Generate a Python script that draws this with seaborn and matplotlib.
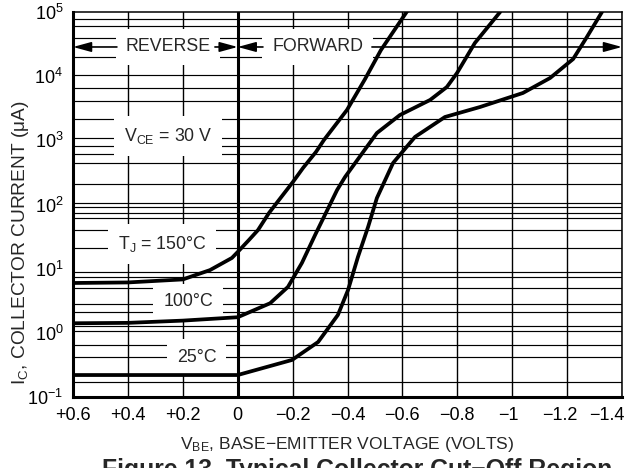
import numpy as np
import pandas as pd
import matplotlib
matplotlib.use("Agg")
import matplotlib.pyplot as plt
from matplotlib.ticker import NullLocator
import matplotlib.transforms as mtransforms
import seaborn as sns

# ---------------- data ----------------
vbe_150 = [0.6, 0.4, 0.2, 0.101, 0.021, 0.0, -0.041, -0.074, -0.114, -0.150, -0.201, -0.238,
           -0.285, -0.314, -0.398, -0.464, -0.522, -0.62]
ic_150 = [5.98, 6.1, 6.8, 9.5, 14.7, 18.2, 28, 40, 73.8, 117, 224, 371,
          658, 1010, 2970, 9030, 2.56e4, 1.07e5]

vbe_100 = [0.6, 0.4, 0.2, 0.0, -0.118, -0.183, -0.234, -0.282, -0.362, -0.391, -0.507, -0.591,
           -0.701, -0.762, -0.799, -0.864, -0.956]
ic_100 = [1.41, 1.43, 1.55, 1.75, 2.89, 5.19, 12.3, 33.5, 168, 268, 1300, 2480,
          4260, 6780, 1.12e4, 3.29e4, 1.0e5]

vbe_25 = [0.6, 0.0, -0.198, -0.293, -0.365, -0.402, -0.438, -0.475, -0.507, -0.566, -0.646,
          -0.755, -0.883, -1.039, -1.138, -1.222, -1.272, -1.327]
ic_25 = [0.22, 0.22, 0.378, 0.72, 1.90, 4.65, 15.2, 44.7, 126, 444, 1130,
         2310, 3310, 5470, 9360, 1.85e4, 4.07e4, 1.0e5]

x_ticks = [0.6, 0.4, 0.2, 0.0, -0.2, -0.4, -0.6, -0.8, -1.0, -1.2, -1.4]
x_tick_labels = ["+0.6", "+0.4", "+0.2", "0", "\u22120.2", "\u22120.4", "\u22120.6",
                 "\u22120.8", "\u22121", "\u22121.2", "\u22121.4"]
y_ticks = [1e-1, 1e0, 1e1, 1e2, 1e3, 1e4, 1e5]
y_tick_labels = [r"$\mathdefault{10^{-1}}$", r"$\mathdefault{10^{0}}$", r"$\mathdefault{10^{1}}$",
                 r"$\mathdefault{10^{2}}$", r"$\mathdefault{10^{3}}$", r"$\mathdefault{10^{4}}$",
                 r"$\mathdefault{10^{5}}$"]

# style: horizontal rules of the printed chart paper
grid_levels = [7.8e4, 6.1e4, 3.9e4, 2.0e4, 1.04e4, 6.5e3, 4.15e3, 2.13e3, 1.1e3, 825, 612, 439,
               209, 107, 90, 74.5, 61, 40, 20.8, 9.0, 7.3, 4.95, 2.8, 2.1, 1.28, 1.08, 0.65,
               0.425, 0.169]

df = pd.concat([
    pd.DataFrame({"vbe": vbe_150, "ic": ic_150, "temp": "150"}),
    pd.DataFrame({"vbe": vbe_100, "ic": ic_100, "temp": "100"}),
    pd.DataFrame({"vbe": vbe_25, "ic": ic_25, "temp": "25"}),
], ignore_index=True)

# ---------------- style ----------------
sns.set_style("white")
plt.rcParams["font.family"] = ["Liberation Sans", "DejaVu Sans"]
plt.rcParams["mathtext.fontset"] = "custom"
plt.rcParams["mathtext.rm"] = "Liberation Sans"
plt.rcParams["mathtext.default"] = "regular"

fig = plt.figure(figsize=(6.27, 4.68), dpi=100)
ax = fig.add_axes([73 / 627, 1 - 397 / 468, 549 / 627, 385 / 468])

ax.set_yscale("log")
sns.lineplot(data=df, x="vbe", y="ic", hue="temp", units="temp", estimator=None, sort=False,
             palette={"150": "black", "100": "black", "25": "black"}, legend=False,
             linewidth=2.7, ax=ax, zorder=5)

ax.set_xlim(0.6, -1.4)
ax.set_ylim(1e-1, 1e5)

# grid
for lv in grid_levels:
    ax.axhline(lv, color="black", lw=0.85, zorder=1)
for xv in x_ticks:
    ax.axvline(xv, color="black", lw=1.0, zorder=1)
ax.axvline(0.0, color="black", lw=2.2, zorder=2)

ax.set_xticks(x_ticks)
ax.set_xticklabels(x_tick_labels)
ax.set_yticks(y_ticks)
ax.set_yticklabels(y_tick_labels)
ax.yaxis.set_minor_locator(NullLocator())
ax.tick_params(axis="both", length=0, labelsize=13, colors="black")
ax.tick_params(axis="x", pad=7)
ax.tick_params(axis="y", pad=7)

xt = ax.get_xticklabels()
xt[-1].set_horizontalalignment("right")
xt[-1].set_transform(xt[-1].get_transform() + mtransforms.ScaledTranslation(3 / 100, 0, fig.dpi_scale_trans))
xt[-2].set_transform(xt[-2].get_transform() + mtransforms.ScaledTranslation(-7 / 100, 0, fig.dpi_scale_trans))
xt[-3].set_transform(xt[-3].get_transform() + mtransforms.ScaledTranslation(-4 / 100, 0, fig.dpi_scale_trans))

for side in ["left", "bottom"]:
    ax.spines[side].set_linewidth(2.2)
for side in ["top", "right"]:
    ax.spines[side].set_linewidth(1.1)
for s in ax.spines.values():
    s.set_color("black")
    s.set_zorder(6)

ax.set_xlabel("V$_{\\mathregular{BE}}$, BASE\u2212EMITTER VOLTAGE (VOLTS)", fontsize=12.6, labelpad=8)
ax.set_ylabel("I$_{\\mathregular{C}}$, COLLECTOR CURRENT (\u03bcA)", fontsize=13.8)
ax.yaxis.set_label_coords(-0.0765, 0.401)

box = dict(boxstyle="square,pad=0.55", fc="white", ec="none")
tfs = 12.8
y_arrow = 2.85e4
ax.text(0.254, y_arrow, "REVERSE", ha="center", va="center", fontsize=tfs, bbox=box, zorder=3)
ax.text(-0.291, y_arrow, "FORWARD", ha="center", va="center", fontsize=tfs, bbox=box, zorder=3)
ax.text(0.254, 1170, "V$_{\\mathregular{CE}}$ = 30 V", ha="center", va="center", fontsize=tfs, bbox=box, zorder=3)
ax.text(0.276, 24.3, "T$_{\\mathregular{J}}$ = 150\u00b0C", ha="center", va="center", fontsize=tfs, bbox=box, zorder=3)
ax.text(0.181, 3.03, "100\u00b0C", ha="center", va="center", fontsize=tfs, bbox=box, zorder=3)
ax.text(0.150, 0.42, "25\u00b0C", ha="center", va="center", fontsize=tfs, bbox=box, zorder=3)

aprops = dict(arrowstyle="-|>,head_length=1.1,head_width=0.3", color="black", lw=1.2,
              shrinkA=0, shrinkB=0)
for x0, x1 in [(0.44, 0.6), (0.083, 0.0), (-0.092, 0.0), (-0.489, -1.4)]:
    ax.annotate("", xy=(x1, y_arrow), xytext=(x0, y_arrow), arrowprops=aprops, zorder=4)

fig.text(357 / 627, 1 - 458 / 468, "Figure 13. Typical Collector Cut\u2212Off Region",
         ha="center", va="top", fontsize=17.85, fontweight="bold")

fig.savefig("out.png", dpi=100)
